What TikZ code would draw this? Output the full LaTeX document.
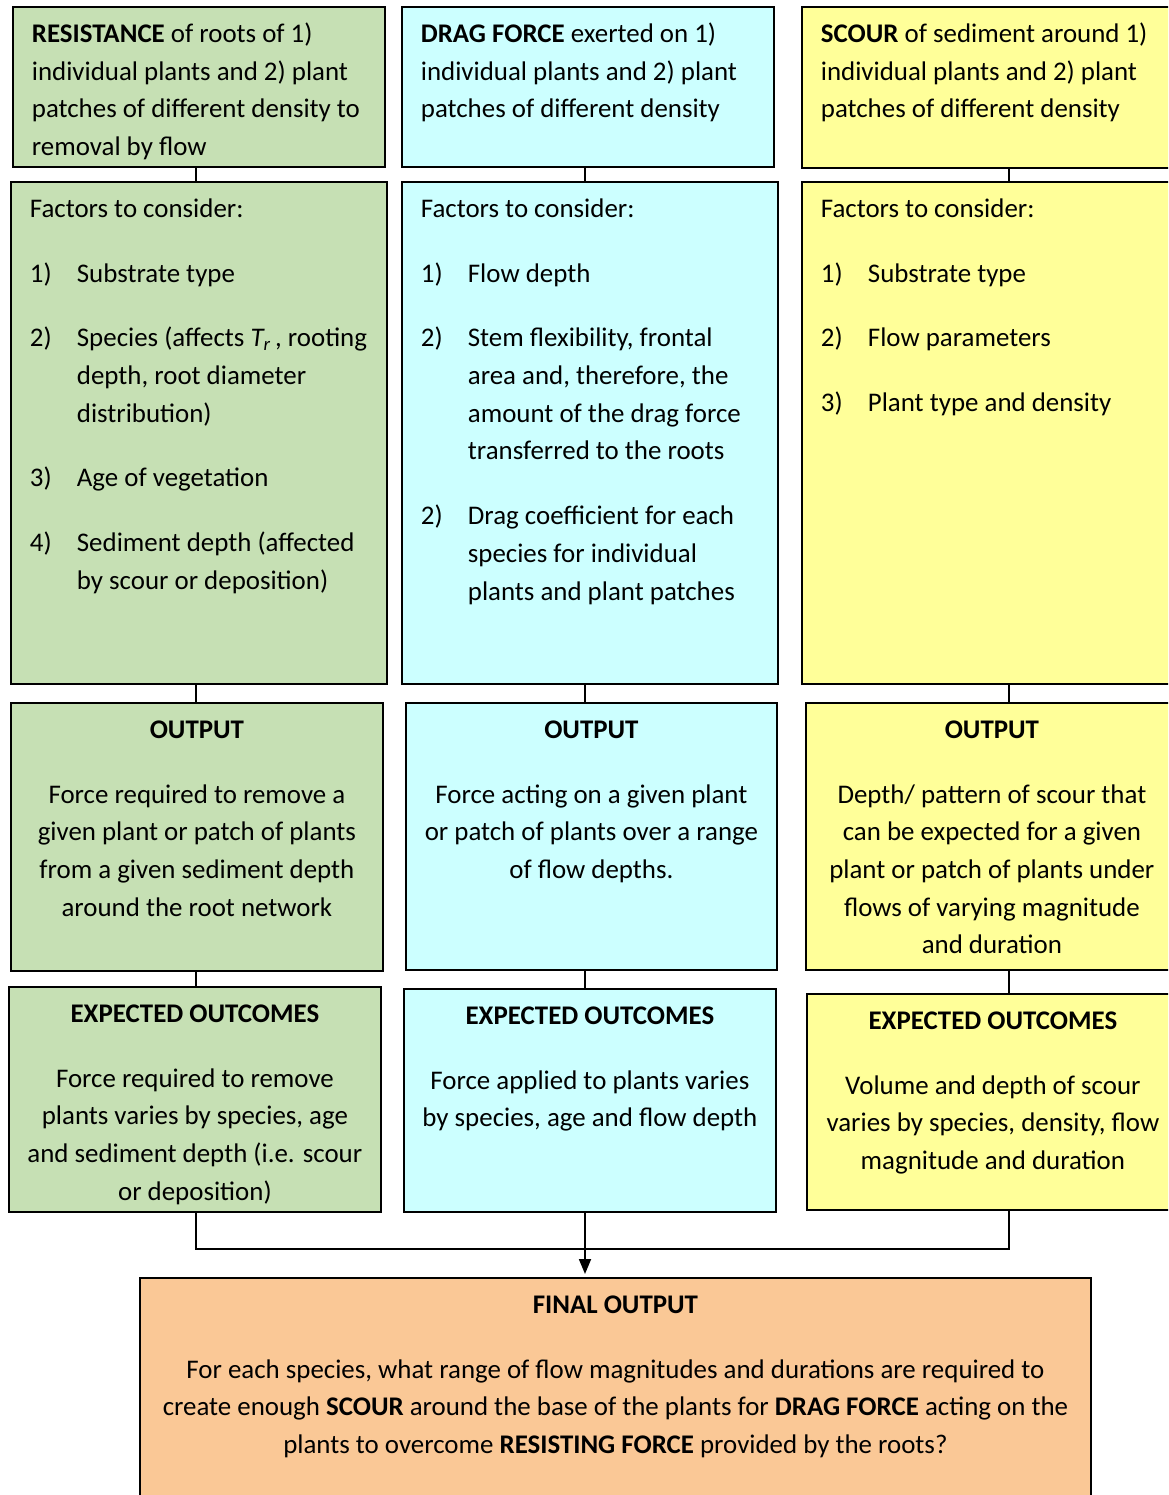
\documentclass[tikz,border=0pt]{standalone}
\usepackage{fontspec}
\setmainfont{Carlito}
\usepackage{xcolor}
\usetikzlibrary{positioning,arrows.meta}
\definecolor{grn}{HTML}{C6E0B4}
\definecolor{cyn}{HTML}{CCFFFF}
\definecolor{ylw}{HTML}{FFFF99}
\definecolor{org}{HTML}{FAC896}
\newcommand\fitem[2]{\par\vspace{27pt}\noindent\hangindent=47pt\hangafter=1\makebox[47pt][l]{#1}#2\par}

\begin{document}
\begin{tikzpicture}[x=1pt,y=-1pt]
\tikzset{cell/.style={draw=black, line width=1.8pt, anchor=north west, inner ysep=0pt, text height=35.5pt, font=\fontsize{26.9pt}{37.7pt}\selectfont},
  lcell/.style={cell, inner xsep=3pt, align=flush left, execute at begin node={\leftskip=16pt}},
  ccell/.style={cell, inner xsep=10pt, align=flush center},
  link/.style={line width=1.8pt}}
\useasboundingbox (0,0) rectangle (1168,1495);
\clip (0,0) rectangle (1168,1495);
% resistance column
\node[lcell, fill=grn, text width=366pt, text depth=124.5pt] (a1) at (12,6) {\textbf{RESISTANCE} of roots of 1)\\individual plants and 2) plant\\patches of different density to\\removal by flow};
\node[lcell, fill=grn, text width=370pt, text depth=466.5pt] (a2) at (10,181) {Factors to consider:
  \fitem{1)}{Substrate type}
  \fitem{2)}{Species (affects \textit{T\textsubscript{r}}\,, rooting\newline depth, root diameter\newline distribution)}
  \fitem{3)}{Age of vegetation}
  \fitem{4)}{Sediment depth (affected\newline by scour or deposition)}};
\node[ccell, fill=grn, text width=352pt, text depth=232.5pt] (a3) at (10,702) {\textbf{OUTPUT}\par\vspace{27pt}Force required to remove a\\given plant or patch of plants\\from a given sediment depth\\around the root network};
\node[ccell, fill=grn, text width=352pt, text depth=189.5pt] (a4) at (8,986) {\textbf{EXPECTED OUTCOMES}\par\vspace{27pt}Force required to remove\\plants varies by species, age\\and sediment depth (i.e. scour\\or deposition)};
% drag column
\node[lcell, fill=cyn, text width=366pt, text depth=124.5pt] (b1) at (401,6) {\textbf{DRAG FORCE} exerted on 1)\\individual plants and 2) plant\\patches of different density};
\node[lcell, fill=cyn, text width=370pt, text depth=466.5pt] (b2) at (401,181) {Factors to consider:
  \fitem{1)}{Flow depth}
  \fitem{2)}{Stem flexibility, frontal\newline area and, therefore, the\newline amount of the drag force\newline transferred to the roots}
  \fitem{2)}{Drag coefficient for each\newline species for individual\newline plants and plant patches}};
\node[ccell, fill=cyn, text width=351pt, text depth=231.5pt] (b3) at (405,702) {\textbf{OUTPUT}\par\vspace{27pt}Force acting on a given plant\\or patch of plants over a range\\of flow depths.};
\node[ccell, fill=cyn, text width=352pt, text depth=187.5pt] (b4) at (403,988) {\textbf{EXPECTED OUTCOMES}\par\vspace{27pt}Force applied to plants varies\\by species, age and flow depth};
% scour column
\node[lcell, fill=ylw, text width=369pt, text depth=125.5pt] (c1) at (801,6) {\textbf{SCOUR} of sediment around 1)\\individual plants and 2) plant\\patches of different density};
\node[lcell, fill=ylw, text width=370pt, text depth=466.5pt] (c2) at (801,181) {Factors to consider:
  \fitem{1)}{Substrate type}
  \fitem{2)}{Flow parameters}
  \fitem{3)}{Plant type and density}};
\node[ccell, fill=ylw, text width=352pt, text depth=231.5pt] (c3) at (805,702) {\textbf{OUTPUT}\par\vspace{27pt}Depth/ pattern of scour that\\can be expected for a given\\plant or patch of plants under\\flows of varying magnitude\\and duration};
\node[ccell, fill=ylw, text width=352pt, text depth=180.5pt] (c4) at (806,993) {\textbf{EXPECTED OUTCOMES}\par\vspace{27pt}Volume and depth of scour\\varies by species, density, flow\\magnitude and duration};
% final
\node[ccell, fill=org, text width=931pt, text depth=204.5pt] (fin) at (139,1277) {\textbf{FINAL OUTPUT}\par\vspace{27pt}For each species, what range of flow magnitudes and durations are required to\\create enough \textbf{SCOUR} around the base of the plants for \textbf{DRAG FORCE} acting on the\\plants to overcome \textbf{RESISTING FORCE} provided by the roots?};
% connectors
\coordinate (spa) at (196,0);
\coordinate (spb) at (585,0);
\coordinate (spc) at (1009,0);
\coordinate (join) at (585,1249);
\foreach \col in {a,b,c}
  \foreach \u/\v in {1/2,2/3,3/4}
    \draw[link] (\col\u.south -| sp\col) -- (\col\v.north -| sp\col);
\draw[link] (a4.south -| spa) |- (join) -| (c4.south -| spc);
\draw[link, -{Triangle[width=12pt,length=15pt]}, shorten >=3pt] (b4.south -| spb) -- (fin.north -| spb);
\end{tikzpicture}
\end{document}
